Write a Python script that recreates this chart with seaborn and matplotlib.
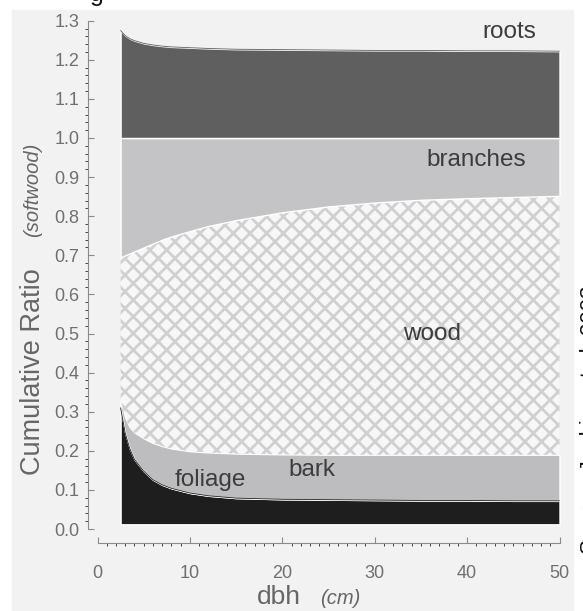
import numpy as np
import pandas as pd
import seaborn as sns
import matplotlib.pyplot as plt
from matplotlib.patches import Rectangle

# dbh (cm) sample points
dbh = [2.5, 3, 3.5, 4, 5, 6, 7, 8, 10, 12, 15, 20, 25, 30, 35, 40, 45, 50]

# upper boundary of each component in the cumulative stack (softwood)
base = 0.012
foliage_top = [0.31, 0.245, 0.205, 0.178, 0.148, 0.126, 0.113, 0.104, 0.092, 0.085,
               0.079, 0.076, 0.075, 0.074, 0.073, 0.073, 0.072, 0.072]
bark_top = [0.33, 0.285, 0.26, 0.247, 0.232, 0.22, 0.212, 0.206, 0.199, 0.196,
            0.193, 0.191, 0.19, 0.19, 0.19, 0.19, 0.19, 0.19]
wood_top = [0.695, 0.70, 0.705, 0.71, 0.72, 0.73, 0.74, 0.748, 0.762, 0.775,
            0.79, 0.81, 0.825, 0.835, 0.842, 0.846, 0.849, 0.852]
branches_top = [1.0] * 18
roots_top = [1.275, 1.262, 1.254, 1.249, 1.242, 1.238, 1.235, 1.233, 1.231, 1.229,
             1.227, 1.226, 1.225, 1.224, 1.224, 1.223, 1.223, 1.222]

components = ['foliage', 'bark', 'wood', 'branches', 'roots']
colors = {'foliage': '#1e1e1e', 'bark': '#bdbdbf', 'wood': '#f7f7f7',
          'branches': '#c4c4c6', 'roots': '#5f5f5f'}

df = pd.DataFrame({'dbh': dbh, 'base': base, 'foliage': foliage_top, 'bark': bark_top,
                   'wood': wood_top, 'branches': branches_top, 'roots': roots_top})

sns.set_style('ticks')
plt.rcParams['font.family'] = ['Liberation Sans', 'DejaVu Sans']
plt.rcParams['hatch.linewidth'] = 2.0
plt.rcParams['hatch.color'] = '#d0d0d0'

fig = plt.figure(figsize=(5.83, 6.11), dpi=100)
fig.patch.set_facecolor('white')
# light grey scan panel behind the chart
fig.patches.append(Rectangle((12 / 583, 0), (573 - 12) / 583, 1 - 10 / 611,
                             transform=fig.transFigure, color='#f2f2f2', zorder=-5))

ax = fig.add_axes([97.5 / 583, 82 / 611, 462 / 583, 508.3 / 611])
ax.set_facecolor('none')

lower = 'base'
for comp in components:
    kw = {}
    if comp == 'wood':
        kw = dict(hatch='xx', edgecolor='#d0d0d0', linewidth=0)
    ax.fill_between(df['dbh'], df[lower], df[comp], facecolor=colors[comp], **kw)
    lower = comp
# soften the edges of the darker layers
sns.lineplot(data=df, x='dbh', y='roots', color=colors['roots'], linewidth=0.6, ax=ax)
sns.lineplot(data=df, x='dbh', y='foliage', color=colors['foliage'], linewidth=0.6, ax=ax)

ax.set_xlim(0, 50)
ax.set_ylim(0, 1.3)
ax.set_xticks(np.arange(0, 51, 10))
ax.set_xticks(np.arange(0, 51, 1), minor=True)
ax.set_yticks(np.arange(0, 1.31, 0.1))
ax.set_yticks(np.arange(0, 1.31, 0.02), minor=True)
ax.set_yticklabels([f'{v:.1f}' for v in np.arange(0, 1.31, 0.1)])
ax.tick_params(colors='#8a8a8a', labelcolor='#707070', labelsize=13, direction='in')
ax.tick_params(which='major', length=4, width=0.8)
ax.tick_params(which='minor', length=2, width=0.6)
ax.tick_params(axis='x', pad=16)
ax.tick_params(axis='y', pad=6)

sns.despine(ax=ax, offset={'left': 7, 'bottom': 10})
for side in ['left', 'bottom']:
    ax.spines[side].set_color('#8a8a8a')
    ax.spines[side].set_linewidth(0.8)
ax.set_xlabel('')
ax.set_ylabel('')

# component labels
lab = dict(fontsize=17.5, color='#3c3c3c', ha='center', va='center')
ax.text(44.6, 1.27, 'roots', **lab)
ax.text(41.0, 0.945, 'branches', **lab)
ax.text(36.2, 0.50, 'wood', **lab)
ax.text(23.2, 0.15, 'bark', **lab)
ax.text(12.2, 0.125, 'foliage', **lab)

# axis titles
fig.text(33 / 583, 1 - 372 / 611, 'Cumulative Ratio', rotation=90, fontsize=19.5,
         color='#666666', ha='center', va='center')
fig.text(33 / 583, 1 - 190 / 611, '(softwood)', rotation=90, fontsize=14.5,
         style='italic', color='#666666', ha='center', va='center')
fig.text(279 / 583, 1 - 597 / 611, 'dbh', fontsize=19, color='#666666',
         ha='center', va='center')
fig.text(340 / 583, 1 - 598 / 611, '(cm)', fontsize=14.5, style='italic',
         color='#666666', ha='center', va='center')

# clipped fragments at the edges of the scan
fig.text(97 / 583, 1 + 6 / 611, 'g', fontsize=18, color='#111111', ha='center', va='center')
fig.text(590 / 583, 1 - 420 / 611, 'Source: Jenkins et al. 2003', rotation=90,
         fontsize=16, color='#111111', ha='center', va='center')

fig.savefig('out.png', dpi=100, facecolor=fig.get_facecolor())
